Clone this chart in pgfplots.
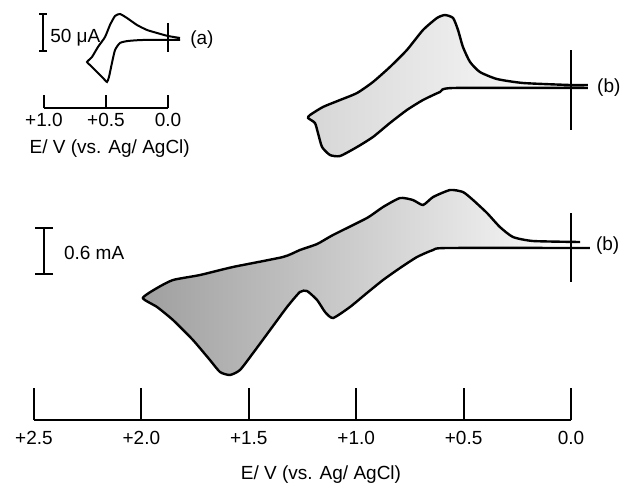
\documentclass[border=0pt]{standalone}
\usepackage{fontspec}
\setmainfont{Liberation Sans}
\usepackage{pgfplots}
\pgfplotsset{compat=1.18}
\usetikzlibrary{arrows.meta}

\begin{document}
\begin{tikzpicture}[font=\fontsize{9.5}{11}\selectfont]
\useasboundingbox (0,0) rectangle (310.5pt,242pt);

% large CV (b), bottom, with the potential axis
\begin{axis}[
  at={(17pt,32pt)}, anchor=south west,
  x=107.4pt, y=40pt, x dir=reverse,
  xmin=0, xmax=2.5, ymin=-2.1875, ymax=1.0,
  axis x line=bottom, axis y line=none,
  axis line style={-, line width=0.9pt},
  xtick={0,0.5,1,1.5,2,2.5},
  xticklabels={0.0,+0.5,+1.0,+1.5,+2.0,+2.5},
  tick align=inside, major tick length=16pt,
  tick style={line width=0.9pt, black},
  xticklabel style={yshift=-2pt},
  clip=false,
]
\addplot[smooth, tension=0.35, line width=1.2pt, draw=black,
  left color=gray!75, right color=white] coordinates {
  (-0.042,0.0375) (0.177,0.05) (0.270,0.10) (0.331,0.225) (0.391,0.40)
  (0.456,0.5625) (0.503,0.6625) (0.563,0.6875) (0.642,0.60) (0.689,0.50)
  (0.736,0.5625) (0.796,0.5875) (0.875,0.475) (0.950,0.3375) (1.108,0.125)
  (1.182,0.0125) (1.262,-0.0625) (1.341,-0.15) (1.574,-0.275) (1.727,-0.375)
  (1.853,-0.4375) (1.927,-0.5375) (1.993,-0.6625)
  (1.927,-0.775) (1.853,-0.9375) (1.760,-1.1875) (1.681,-1.4375) (1.634,-1.5875)
  (1.588,-1.625) (1.541,-1.5625) (1.480,-1.35) (1.401,-1.0625) (1.322,-0.775)
  (1.262,-0.5875) (1.229,-0.575) (1.182,-0.6875) (1.145,-0.8375) (1.108,-0.9125)
  (1.029,-0.775) (0.950,-0.60) (0.875,-0.4375) (0.796,-0.2875) (0.717,-0.15)
  (0.642,-0.0625) (0.577,-0.0375) (-0.088,-0.0375)
};
% zero marker
\addplot[line width=1pt] coordinates {(0,0.4) (0,-0.4625)};
% scale bar
\addplot[line width=1pt, {Bar[width=9pt]}-{Bar[width=9pt]}] coordinates {(2.453,0.225) (2.453,-0.375)};
\node[anchor=west] at (axis cs:2.393,-0.1) {0.6 mA};
\node[anchor=west, inner sep=0pt] at (axis cs:-0.115,-0.0125) {(b)};
\node[inner sep=1pt] at (axis cs:1.164,-2.1875) [yshift=-27.5pt] {E/ V (vs. Ag/ AgCl)};
\end{axis}

% narrower CV (b), top
\begin{axis}[
  at={(17pt,158.5pt)}, anchor=south west,
  x=107.4pt, y=40pt, x dir=reverse,
  xmin=0, xmax=2.5, ymin=-1, ymax=1,
  hide axis, clip=false,
]
\addplot[smooth, tension=0.35, line width=1.2pt, draw=black,
  left color=gray!32, right color=white] coordinates {
  (-0.079,0.025) (0.005,0.025) (0.223,0.05) (0.345,0.10) (0.424,0.1875)
  (0.470,0.3125) (0.503,0.50) (0.526,0.7125) (0.549,0.8625) (0.587,0.90)
  (0.624,0.8625) (0.689,0.7125) (0.764,0.4625) (0.843,0.25) (0.922,0.0625)
  (0.996,-0.075) (1.075,-0.1625) (1.155,-0.25) (1.215,-0.35) (1.224,-0.3875)
  (1.192,-0.45) (1.178,-0.575) (1.159,-0.75) (1.122,-0.85) (1.075,-0.8625)
  (0.996,-0.75) (0.922,-0.625) (0.843,-0.45) (0.764,-0.2875) (0.689,-0.1625)
  (0.610,-0.0625) (0.549,-0.0125) (-0.079,-0.0125)
};
\addplot[line width=1pt] coordinates {(0,0.4625) (0,-0.5375)};
\node[anchor=west, inner sep=0pt] at (axis cs:-0.12,-0.0125) {(b)};
\end{axis}

% inset CV (a)
\begin{axis}[
  at={(22pt,188pt)}, anchor=south west,
  x=62pt, y=0.39pt, x dir=reverse,
  xmin=0, xmax=1, ymin=-87.2, ymax=40,
  axis x line=bottom, axis y line=none,
  axis line style={-, line width=0.9pt},
  xtick={0,0.5,1},
  xticklabels={0.0,+0.5,+1.0},
  tick align=inside, major tick length=6.5pt,
  tick style={line width=0.9pt, black},
  xticklabel style={yshift=-1.5pt, inner sep=1pt},
  clip=false,
]
\addplot[smooth, tension=0.35, line width=1pt, draw=black] coordinates {
  (-0.097,2.6) (0,5.1) (0.089,9.0) (0.169,12.8) (0.25,19.2) (0.331,28.2)
  (0.387,33.3) (0.427,30.8) (0.468,19.2) (0.508,3.8) (0.565,-9.0) (0.613,-21.8)
  (0.653,-28.2) (0.629,-32.1) (0.573,-41.0) (0.524,-48.7) (0.492,-53.8)
  (0.476,-47.4) (0.452,-29.5) (0.427,-12.8) (0.387,-3.8) (0.323,-1.3)
  (0.202,0) (-0.097,0)
};
\addplot[line width=1pt] coordinates {(0,21.8) (0,-15.4)};
\addplot[line width=0.9pt, {Bar[width=4pt]}-{Bar[width=4pt]}] coordinates {(1.008,34.6) (1.008,-15.4)};
\node[anchor=west, inner sep=0pt] at (axis cs:0.952,2.6) {50 μA};
\node[anchor=west, inner sep=0pt] at (axis cs:-0.177,0) {(a)};
\node[inner sep=1pt] at (axis cs:0.47,-87.2) [yshift=-20.5pt] {E/ V (vs. Ag/ AgCl)};
\end{axis}
\end{tikzpicture}
\end{document}
